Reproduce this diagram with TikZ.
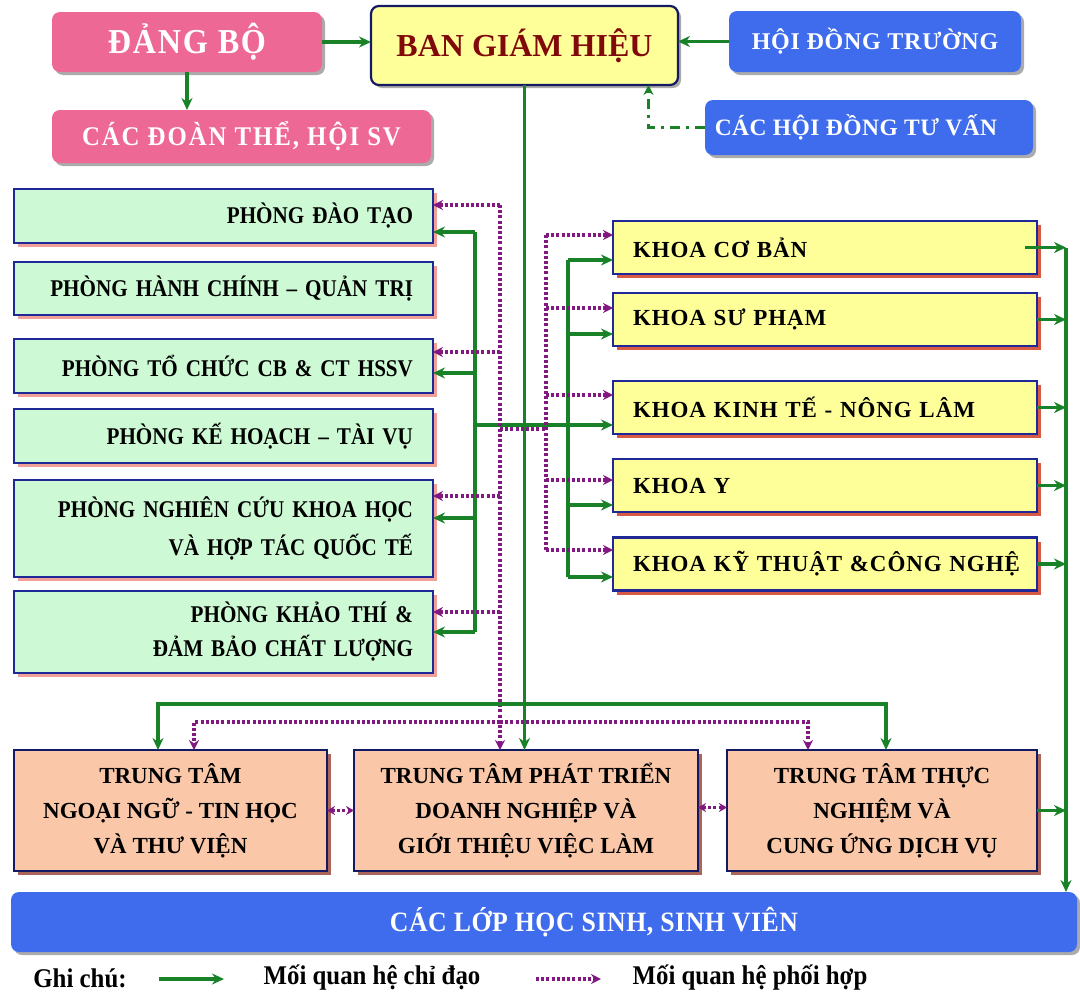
\documentclass[tikz,border=0pt]{standalone}
\usepackage{fontspec}
\setmainfont{Liberation Serif}
\newfontfamily\condB{Liberation Serif Bold}[FakeStretch=0.88,WordSpace=0.6]
\newfontfamily\semiB{Liberation Serif Bold}[FakeStretch=0.92]
\usetikzlibrary{arrows.meta,shadows}
\definecolor{pinkc}{RGB}{238,104,150}
\definecolor{yelc}{RGB}{255,255,153}
\definecolor{navyc}{RGB}{30,40,150}
\definecolor{navyd}{RGB}{20,25,100}
\definecolor{grbox}{RGB}{205,250,212}
\definecolor{peach}{RGB}{250,200,168}
\definecolor{bluec}{RGB}{62,108,236}
\definecolor{gr}{RGB}{25,130,40}
\definecolor{pu}{RGB}{130,25,130}
\definecolor{dred}{RGB}{128,10,10}
\definecolor{shsalmon}{RGB}{240,160,150}
\definecolor{shred}{RGB}{215,90,70}
\definecolor{shgrey}{RGB}{150,150,150}
\definecolor{shbrown}{RGB}{170,100,90}
\begin{document}
\begin{tikzpicture}[x=1pt,y=-1pt,
  every node/.style={inner sep=0pt,outer sep=0pt},
  gline/.style={draw=gr,line width=3.2pt},
  garrow/.style={gline,-{Stealth[length=12pt,width=11pt]}},
  pline/.style={draw=pu,line width=3.4pt,dash pattern=on 3pt off 2.2pt},
  parrow/.style={pline,-{Stealth[length=10pt,width=10pt]}},
  pboth/.style={pline,{Stealth[length=8pt,width=9pt]}-{Stealth[length=8pt,width=9pt]}},
  ddarrow/.style={draw=gr,line width=3pt,dash pattern=on 10pt off 6pt on 3pt off 6pt,-{Stealth[length=10pt,width=10pt]}},
  roundbox/.style={rounded corners=8pt,text=white,
    drop shadow={shadow xshift=3pt,shadow yshift=-3pt,fill=shgrey,opacity=0.8}},
  pinkbox/.style={roundbox,fill=pinkc},
  bluebox/.style={roundbox,fill=bluec},
  bghbox/.style={fill=yelc,draw=navyd,line width=2.2pt,rounded corners=8pt,text=dred,
    drop shadow={shadow xshift=3pt,shadow yshift=-3pt,fill=shgrey,opacity=0.8}},
  phbox/.style={fill=grbox,draw=navyc,line width=2.2pt,minimum width=419pt,
    text width=379pt,align=right,
    font=\condB\fontsize{24}{38}\selectfont,
    drop shadow={shadow xshift=4pt,shadow yshift=-4pt,fill=shsalmon,opacity=1}},
  khbox/.style={fill=yelc,draw=navyc,line width=2.2pt,minimum width=424pt,minimum height=53pt,
    text width=384pt,align=left,
    font=\fontsize{23}{26}\selectfont\bfseries\addfontfeature{LetterSpace=4},
    drop shadow={shadow xshift=4pt,shadow yshift=-4pt,fill=shred,opacity=1}},
  ttbox/.style={fill=peach,draw=navyd,line width=2.2pt,minimum height=121pt,align=center,
    font=\fontsize{23}{35}\selectfont\bfseries,
    drop shadow={shadow xshift=4pt,shadow yshift=-4pt,fill=shbrown,opacity=1}},
  legfont/.style={font=\semiB\fontsize{27}{29}\selectfont}
]
\useasboundingbox (0,0) rectangle (1080,996);
\fill[white] (0,0) rectangle (1080,996);

% top
\node[pinkbox,minimum width=270pt,minimum height=60pt,
  font=\semiB\fontsize{35}{37}\selectfont\addfontfeature{LetterSpace=5}] (dangbo) at (187,42) {ĐẢNG BỘ};
\node[pinkbox,minimum width=379pt,minimum height=53pt,
  font=\semiB\fontsize{27}{29}\selectfont\addfontfeature{LetterSpace=7}] (doanthe) at (241.5,136.5) {CÁC ĐOÀN THỂ, HỘI SV};
\node[bghbox,minimum width=307pt,minimum height=79pt,
  font=\fontsize{32}{34}\selectfont\bfseries] (bgh) at (524.5,45.5) {BAN GIÁM HIỆU};
\node[bluebox,minimum width=292pt,minimum height=61pt,
  font=\fontsize{24}{26}\selectfont\bfseries\addfontfeature{LetterSpace=3}] (hdt) at (875,41.5) {HỘI ĐỒNG TRƯỜNG};
\node[bluebox,minimum width=328pt,minimum height=55pt,
  font=\fontsize{23.5}{26}\selectfont\bfseries\addfontfeature{LetterSpace=2}] (hdtv) at (869,127.5) {CÁC HỘI ĐỒNG TƯ VẤN\hspace*{26pt}};

% phong
\node[phbox,minimum height=54pt] (pdt) at (223.5,216) {PHÒNG ĐÀO TẠO};
\node[phbox,minimum height=53pt] (phc) at (223.5,288.5) {\mbox{PHÒNG HÀNH CHÍNH – QUẢN TRỊ}};
\node[phbox,minimum height=54pt] (ptc) at (223.5,366) {\mbox{PHÒNG TỔ CHỨC CB \& CT HSSV}};
\node[phbox,minimum height=54pt] (pkh) at (223.5,436) {PHÒNG KẾ HOẠCH – TÀI VỤ};
\node[phbox,minimum height=97pt] (pnc) at (223.5,528.5) {\mbox{PHÒNG NGHIÊN CỨU KHOA HỌC}\\VÀ HỢP TÁC QUỐC TẾ};
\node[phbox,minimum height=82pt,font=\condB\fontsize{24}{34}\selectfont] (pkt) at (223.5,632) {PHÒNG KHẢO THÍ \&\\ĐẢM BẢO CHẤT LƯỢNG};

% khoa
\node[khbox] (kcb) at (825,247.5) {KHOA CƠ BẢN};
\node[khbox] (ksp) at (825,319.5) {KHOA SƯ PHẠM};
\node[khbox] (kkt) at (825,407.5) {\mbox{KHOA KINH TẾ - NÔNG LÂM}};
\node[khbox] (ky) at (825,485.5) {KHOA Y};
\node[khbox] (kkc) at (825,564) {\mbox{KHOA KỸ THUẬT \&CÔNG NGHỆ}};

% trung tam
\node[ttbox,minimum width=313pt] (tt1) at (170.5,810.5) {TRUNG TÂM\\NGOẠI NGỮ - TIN HỌC\\VÀ THƯ VIỆN};
\node[ttbox,minimum width=344pt] (tt2) at (526,810.5) {TRUNG TÂM PHÁT TRIỂN\\DOANH NGHIỆP VÀ\\GIỚI THIỆU VIỆC LÀM};
\node[ttbox,minimum width=310pt] (tt3) at (882,810.5) {TRUNG TÂM THỰC\\NGHIỆM VÀ\\CUNG ỨNG DỊCH VỤ};

% students
\node[bluebox,minimum width=1066pt,minimum height=60pt,
  font=\semiB\fontsize{28}{30}\selectfont\addfontfeature{LetterSpace=2}] (lop) at (544,922) {\hspace*{100pt}CÁC LỚP HỌC SINH, SINH VIÊN};

% top connectors
\draw[garrow] (dangbo.east) -- (dangbo.east -| bgh.west);
\draw[garrow] (dangbo.south) -- (dangbo.south |- doanthe.north);
\draw[garrow] (hdt.west) -- (hdt.west -| bgh.east);
\draw[ddarrow] (hdtv.west) -| ([xshift=124pt]bgh.south);

% bus coordinates
\coordinate (gL1) at (475,232);
\coordinate (gL2) at (475,373);
\coordinate (gLk) at (475,425);
\coordinate (gL3) at (475,518);
\coordinate (gL4) at (475,632);
\coordinate (pL1) at (500,205);
\coordinate (pL2) at (500,352);
\coordinate (pLk) at (500,429);
\coordinate (pL3) at (500,496);
\coordinate (pL4) at (500,612);
\coordinate (pB) at (500,722);
\coordinate (pR1) at (546,235);
\coordinate (pR2) at (546,308);
\coordinate (pRk) at (546,395);
\coordinate (pR4) at (546,480);
\coordinate (pR5) at (546,550);
\coordinate (gR1) at (568,260);
\coordinate (gR2) at (568,334);
\coordinate (gR4) at (568,505);
\coordinate (gR5) at (568,577);
\coordinate (gB) at (524.5,704);
\coordinate (rb) at (1066,248);

% main vertical
\draw[garrow] (bgh.south) -- (bgh.south |- tt2.north);

% left green bus
\draw[gline] (gL1) -- (gL4);
\draw[garrow] (gL1) -- (gL1 -| pdt.east);
\draw[garrow] (gL2) -- (gL2 -| ptc.east);
\draw[garrow] (gL3) -- (gL3 -| pnc.east);
\draw[garrow] (gL4) -- (gL4 -| pkt.east);
\draw[garrow] (gLk) -- (gLk -| kkt.west);

% right green bus
\draw[gline] (gR1) -- (gR5);
\draw[garrow] (gR1) -- (gR1 -| kcb.west);
\draw[garrow] (gR2) -- (gR2 -| ksp.west);
\draw[garrow] (gR4) -- (gR4 -| ky.west);
\draw[garrow] (gR5) -- (gR5 -| kkc.west);

% left dotted bus
\draw[parrow] (pL1) -- (pL1 |- tt2.north);
\draw[parrow] (pL1) -- (pL1 -| pdt.east);
\draw[parrow] (pL2) -- (pL2 -| ptc.east);
\draw[parrow] (pL3) -- (pL3 -| pnc.east);
\draw[parrow] (pL4) -- (pL4 -| pkt.east);
\draw[pline] (pLk) -- (pLk -| pR1);

% right dotted bus
\draw[pline] (pR1) -- (pR5);
\draw[parrow] (pR1) -- (pR1 -| kcb.west);
\draw[parrow] (pR2) -- (pR2 -| ksp.west);
\draw[parrow] (pRk) -- (pRk -| kkt.west);
\draw[parrow] (pR4) -- (pR4 -| ky.west);
\draw[parrow] (pR5) -- (pR5 -| kkc.west);

% bottom distribution
\draw[garrow] (gB) -| ([xshift=-12.5pt]tt1.north);
\draw[garrow] (gB) -| ([xshift=4pt]tt3.north);
\draw[parrow] (pB) -| ([xshift=23.5pt]tt1.north);
\draw[parrow] (pB) -| ([xshift=-74pt]tt3.north);
\draw[pboth] (tt1.east) -- (tt2.west);
\draw[pboth] ([yshift=3pt]tt2.east) -- ([yshift=3pt]tt3.west);

% right bus to students
\draw[garrow] (rb) -- (rb |- lop.north);
\draw[garrow] ([xshift=-12pt]kcb.east) -- (kcb.east -| rb);
\draw[garrow] (ksp.east) -- (ksp.east -| rb);
\draw[garrow] (kkt.east) -- (kkt.east -| rb);
\draw[garrow] (ky.east) -- (ky.east -| rb);
\draw[garrow] (kkc.east) -- (kkc.east -| rb);
\draw[garrow] (tt3.east) -- (tt3.east -| rb);

% legend
\node[legfont] (ghichu) at (80,978) {Ghi chú:};
\coordinate (lg1) at (159,979);
\coordinate (lg2) at (224,979);
\draw[garrow] (lg1) -- (lg2);
\node[legfont] (lgtxt1) at (372,978) {Mối quan hệ chỉ đạo};
\coordinate (lp1) at (536,979);
\coordinate (lp2) at (601,979);
\draw[parrow] (lp1) -- (lp2);
\node[legfont] (lgtxt2) at (750,978) {Mối quan hệ phối hợp};
\end{tikzpicture}
\end{document}
